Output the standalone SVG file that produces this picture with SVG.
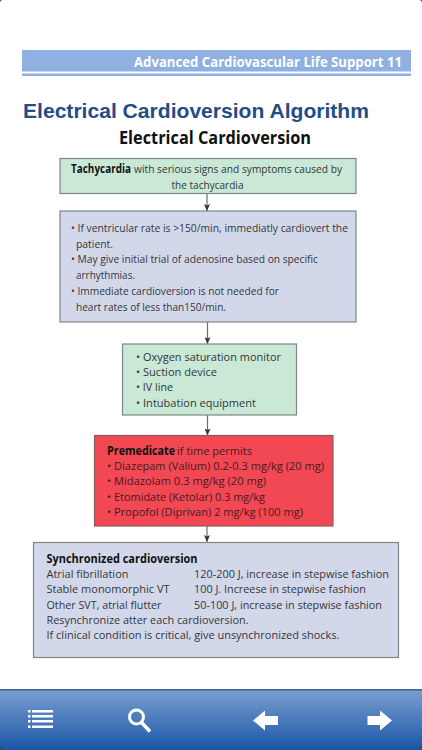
<svg xmlns="http://www.w3.org/2000/svg" width="422" height="750" viewBox="0 0 422 750">
<style>
text{font-family:"Open Sans","Noto Sans",sans-serif;font-size:11.5px;fill:#33373a}
.b{font-weight:700;fill:#111}
.box{stroke:#7f8588;stroke-width:1.2}
.g{fill:#c9e8d6}
.v{fill:#d2d8ea}
.r{fill:#f24853;stroke:#8a5a5c}
.c{stroke:#6a6e70;stroke-width:1.2;fill:none;marker-end:url(#a)}
.rt{fill:#4a1a20}
.i{fill:#fff}
</style>
<defs>
<marker id="a" markerUnits="userSpaceOnUse" markerWidth="7" markerHeight="6" refX="7" refY="3" orient="auto" viewBox="0 0 7 6"><path d="M0 0 1.500 3 0 6 7 3Z" fill="#333638"/></marker>
<linearGradient id="bar" x1="0" y1="0" x2="0" y2="1"><stop offset="0" stop-color="#7ba0d2"/><stop offset="1" stop-color="#1a55a5"/></linearGradient>
</defs>
<rect width="422" height="750" fill="#fff"/>
<g id="header">
<rect x="22" y="50" width="389" height="21.500" fill="#8fb0e0"/>
<rect x="22" y="73.500" width="389" height="2.500" fill="#8fb0e0"/>
<text x="402" y="67" text-anchor="end" textLength="268" lengthAdjust="spacingAndGlyphs" style="font-size:14px;font-weight:700;fill:#fff">Advanced Cardiovascular Life Support 11</text>
</g>
<text x="23" y="118" textLength="346" lengthAdjust="spacingAndGlyphs" style="font-family:'Liberation Sans',Arial,sans-serif;font-size:20.500px;font-weight:700;fill:#234d86">Electrical Cardioversion Algorithm</text>
<text x="119" y="144" textLength="192" lengthAdjust="spacingAndGlyphs" style="font-size:18px;font-weight:700;fill:#111">Electrical Cardioversion</text>
<g id="connectors">
<path class="c" d="M207 193.500V211"/>
<path class="c" d="M207.500 322V344"/>
<path class="c" d="M207.500 415V435.500"/>
<path class="c" d="M207 526V542"/>
</g>
<g id="n1">
<rect class="box g" x="60" y="158.500" width="296" height="35"/>
<text class="b" x="71" y="173" textLength="60" lengthAdjust="spacingAndGlyphs">Tachycardia</text>
<text x="134" y="173" textLength="208" lengthAdjust="spacingAndGlyphs">with serious signs and symptoms caused by</text>
<text x="207.500" y="189" text-anchor="middle" textLength="72" lengthAdjust="spacingAndGlyphs">the tachycardia</text>
</g>
<g id="n2">
<rect class="box v" x="60" y="211" width="296" height="111"/>
<text x="71" y="232" textLength="277" lengthAdjust="spacingAndGlyphs">• If ventricular rate is &gt;150/min,  immediatly cardiovert the</text>
<text x="76" y="248" textLength="37" lengthAdjust="spacingAndGlyphs">patient.</text>
<text x="71" y="263" textLength="247" lengthAdjust="spacingAndGlyphs">• May give initial trial of adenosine based on specific</text>
<text x="76" y="279" textLength="59" lengthAdjust="spacingAndGlyphs">arrhythmias.</text>
<text x="71" y="295" textLength="208" lengthAdjust="spacingAndGlyphs">• Immediate cardioversion is not needed for</text>
<text x="76" y="311" textLength="150" lengthAdjust="spacingAndGlyphs">heart rates of less than150/min.</text>
</g>
<g id="n3">
<rect class="box g" x="122.500" y="344" width="174" height="71"/>
<text x="136" y="361" textLength="145" lengthAdjust="spacingAndGlyphs">• Oxygen saturation monitor</text>
<text x="136" y="376" textLength="81" lengthAdjust="spacingAndGlyphs">• Suction device</text>
<text x="136" y="391" textLength="37" lengthAdjust="spacingAndGlyphs">• IV line</text>
<text x="136" y="407" textLength="120" lengthAdjust="spacingAndGlyphs">• Intubation equipment</text>
</g>
<g id="n4">
<rect class="box r" x="94.500" y="435.500" width="238.500" height="90.500"/>
<text class="b" x="107" y="455" textLength="68" lengthAdjust="spacingAndGlyphs">Premedicate</text>
<text class="rt" x="177" y="455" textLength="75" lengthAdjust="spacingAndGlyphs">if time permits</text>
<text class="rt" x="107" y="470" textLength="217" lengthAdjust="spacingAndGlyphs">• Diazepam (Valium) 0.2-0.3 mg/kg (20 mg)</text>
<text class="rt" x="107" y="485" textLength="159" lengthAdjust="spacingAndGlyphs">• Midazolam 0.3 mg/kg (20 mg)</text>
<text class="rt" x="107" y="501" textLength="158" lengthAdjust="spacingAndGlyphs">• Etomidate (Ketolar) 0.3 mg/kg</text>
<text class="rt" x="107" y="516" textLength="196" lengthAdjust="spacingAndGlyphs">• Propofol (Diprivan) 2 mg/kg (100 mg)</text>
</g>
<g id="n5">
<rect class="box v" x="33.500" y="542.500" width="365" height="115"/>
<text class="b" x="46.500" y="563" textLength="151" lengthAdjust="spacingAndGlyphs">Synchronized cardioversion</text>
<text x="46.500" y="578" textLength="82" lengthAdjust="spacingAndGlyphs">Atrial fibrillation</text>
<text x="194" y="578" textLength="195" lengthAdjust="spacingAndGlyphs">120-200 J, increase in stepwise fashion</text>
<text x="46.500" y="593" textLength="123" lengthAdjust="spacingAndGlyphs">Stable monomorphic VT</text>
<text x="194" y="593" textLength="172" lengthAdjust="spacingAndGlyphs">100 J. Increese in stepwise fashion</text>
<text x="46.500" y="609" textLength="115" lengthAdjust="spacingAndGlyphs">Other SVT, atrial flutter</text>
<text x="194" y="609" textLength="188" lengthAdjust="spacingAndGlyphs">50-100 J, increase in stepwise fashion</text>
<text x="46.500" y="624" textLength="202" lengthAdjust="spacingAndGlyphs">Resynchronize atter each cardioversion.</text>
<text x="46.500" y="639" textLength="293" lengthAdjust="spacingAndGlyphs">If clinical condition is critical, give unsynchronized shocks.</text>
</g>
<g id="toolbar">
<rect y="689" width="422" height="61" fill="url(#bar)"/>
<rect y="689" width="422" height="1.500" fill="#3f5f90"/>
<path d="M0 750V745Q0 750 5 750ZM422 750V745Q422 750 417 750ZM0 0V3Q0 0 3 0ZM422 0V3Q422 0 419 0Z" fill="#444"/>
<path class="i" d="M28 710h2.500v2.500H28ZM32 710h21v2.500H32ZM28 715h2.500v2.500H28ZM32 715h21v2.500H32ZM28 720h2.500v2.500H28ZM32 720h21v2.500H32ZM28 725.500h2.500v2.500H28ZM32 725.500h21v2.500H32Z"/>
<circle cx="136.500" cy="717" r="7" fill="none" stroke="#fff" stroke-width="3"/>
<path d="M141.500 722.500 150 731.500" stroke="#fff" stroke-width="3.500" fill="none"/>
<path class="i" d="M253 720.500 265 710.500V716H278V725H265V730.500Z"/>
<path class="i" d="M392 720.500 380 710.500V716H367.500V725H380V730.500Z"/>
</g>
</svg>
